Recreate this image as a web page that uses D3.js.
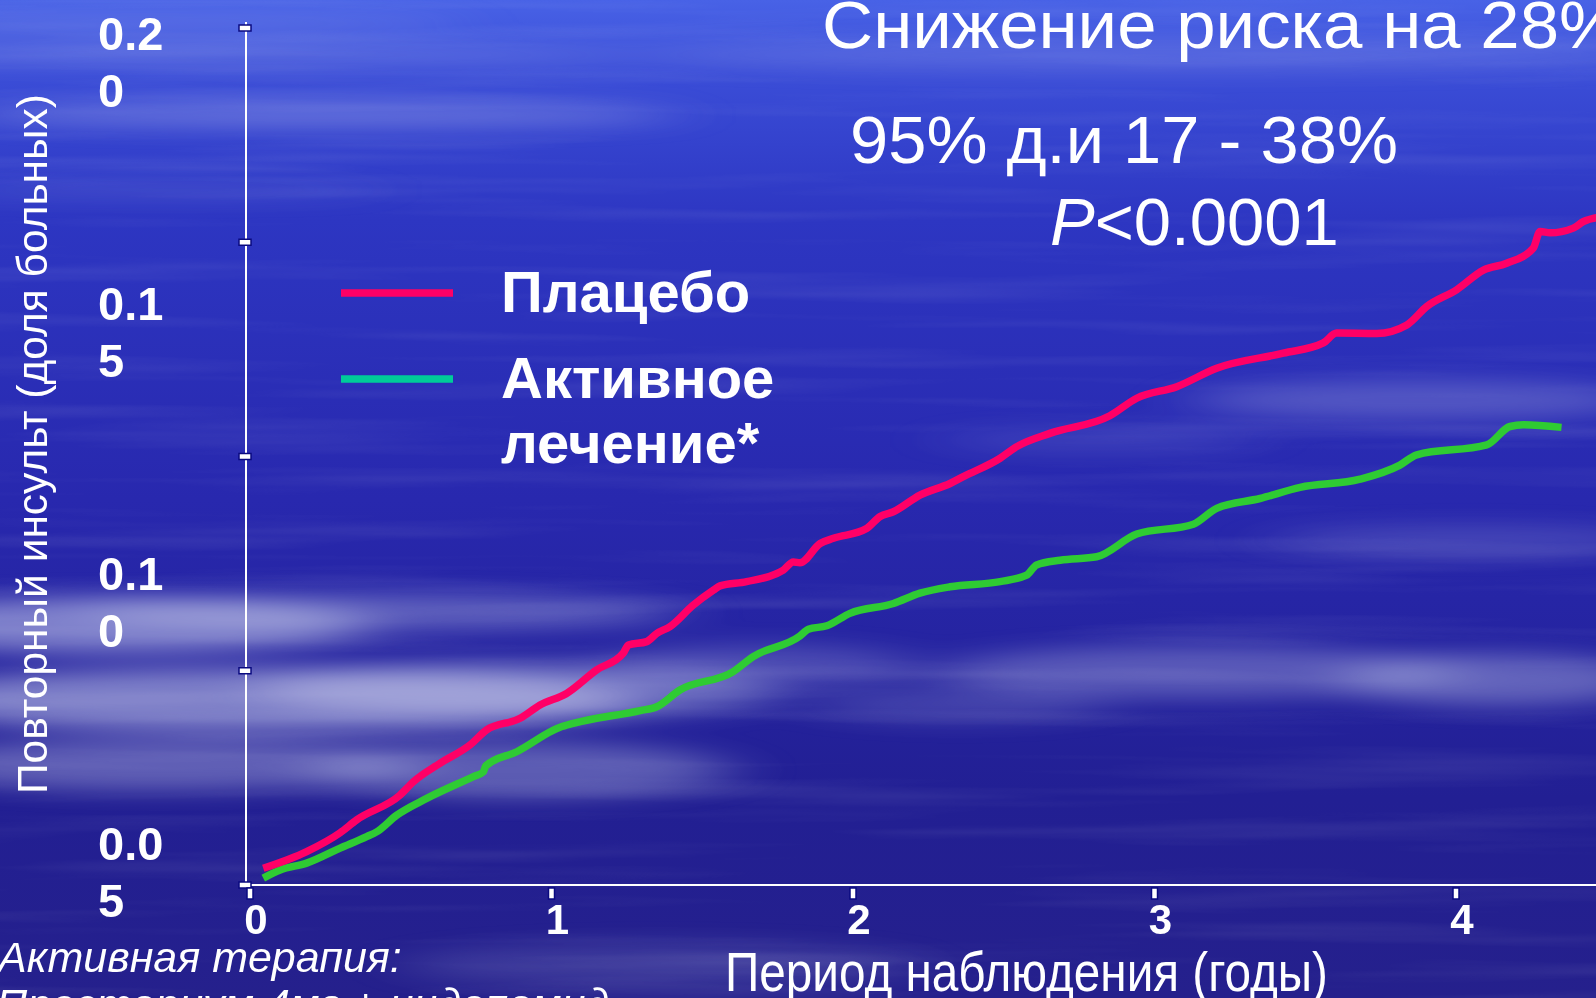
<!DOCTYPE html>
<html>
<head>
<meta charset="utf-8">
<script src="https://cdn.jsdelivr.net/npm/d3@7"></script>
<style>
  html, body { margin: 0; padding: 0; overflow: hidden; background: #2828ae; }
  svg { display: block; font-family: "Liberation Sans", Arial, sans-serif; }
</style>
</head>
<body>
<svg id="chart" width="1596" height="998"></svg>
<script>
// Follow-up time (years) and cumulative proportion of patients with recurrent stroke
const placeboYears = [0.044, 0.188, 0.299, 0.354, 0.498, 0.542, 0.630, 0.730, 0.785, 0.896, 0.962, 1.050, 1.150, 1.238, 1.255, 1.316, 1.349, 1.393, 1.470, 1.537, 1.559, 1.647, 1.769, 1.802, 1.824, 1.891, 1.935, 2.045, 2.090, 2.134, 2.222, 2.322, 2.366, 2.488, 2.543, 2.653, 2.852, 2.941, 3.074, 3.206, 3.427, 3.560, 3.604, 3.737, 3.837, 3.903, 4.002, 4.091, 4.168, 4.256, 4.279, 4.312, 4.389, 4.422, 4.470];
const placeboRisk  = [0.0039, 0.0078, 0.0122, 0.0152, 0.0210, 0.0241, 0.0284, 0.0327, 0.0362, 0.0389, 0.0420, 0.0447, 0.0502, 0.0541, 0.0560, 0.0568, 0.0587, 0.0603, 0.0653, 0.0688, 0.0698, 0.0708, 0.0735, 0.0754, 0.0752, 0.0797, 0.0809, 0.0832, 0.0860, 0.0871, 0.0910, 0.0937, 0.0953, 0.0996, 0.1023, 0.1054, 0.1095, 0.1136, 0.1163, 0.1206, 0.1241, 0.1265, 0.1288, 0.1287, 0.1307, 0.1350, 0.1389, 0.1435, 0.1451, 0.1486, 0.1525, 0.1522, 0.1533, 0.1548, 0.1558];

const activeYears = [0.044, 0.100, 0.188, 0.299, 0.387, 0.420, 0.487, 0.586, 0.741, 0.774, 0.782, 0.885, 1.028, 1.072, 1.294, 1.349, 1.426, 1.603, 1.669, 1.824, 1.852, 1.913, 1.990, 2.134, 2.222, 2.322, 2.488, 2.576, 2.609, 2.687, 2.808, 2.941, 3.129, 3.206, 3.350, 3.483, 3.682, 3.814, 3.870, 4.102, 4.179, 4.223, 4.350];
const activeRisk  = [0.0016, 0.0035, 0.0051, 0.0086, 0.0113, 0.0124, 0.0163, 0.0202, 0.0253, 0.0264, 0.0278, 0.0311, 0.0368, 0.0377, 0.0407, 0.0416, 0.0455, 0.0498, 0.0533, 0.0581, 0.0597, 0.0605, 0.0634, 0.0657, 0.0681, 0.0696, 0.0708, 0.0723, 0.0747, 0.0758, 0.0766, 0.0819, 0.0842, 0.0879, 0.0902, 0.0928, 0.0947, 0.0980, 0.1004, 0.1027, 0.1070, 0.1074, 0.1068];

const xTicks = [0, 1, 2, 3, 4];
const xTickLabels = ["0", "1", "2", "3", "4"];
const yTicks = [0, 0.05, 0.10, 0.15, 0.20];
// value labels on the left, each printed on two lines
const yLabelValues = [0.20, 0.15, 0.10, 0.05];
const yLabelLines = [["0.2", "0"], ["0.1", "5"], ["0.1", "0"], ["0.0", "5"]];

const seriesNames = ["Плацебо", "Активное лечение*"];

const W = 1596, H = 998;
const svg = d3.select("#chart");
const defs = svg.append("defs");

// ---------- backdrop: deep blue sky with soft streaky clouds ----------
const grad = defs.append("linearGradient").attr("id", "sky")
  .attr("x1", 0).attr("y1", 0).attr("x2", 0).attr("y2", 1);
[[0, "#4862e6"], [0.07, "#3b4ed8"], [0.22, "#2d36c2"], [0.5, "#2828ae"], [0.8, "#221f93"], [1, "#25208c"]]
  .forEach(([o, c]) => grad.append("stop").attr("offset", o).attr("stop-color", c));

const cloudBlur = defs.append("filter").attr("id", "cloudBlur")
  .attr("x", "-50%").attr("y", "-100%").attr("width", "200%").attr("height", "300%");
cloudBlur.append("feGaussianBlur").attr("stdDeviation", "34 11");

const streaks = defs.append("filter").attr("id", "streaks")
  .attr("x", 0).attr("y", 0).attr("width", "100%").attr("height", "100%");
streaks.append("feTurbulence").attr("type", "fractalNoise")
  .attr("baseFrequency", "0.0018 0.045").attr("numOctaves", 3).attr("seed", 7).attr("result", "n");
streaks.append("feColorMatrix").attr("type", "matrix")
  .attr("values", "0 0 0 0 1  0 0 0 0 1  0 0 0 0 1  1.7 0 0 0 -0.82");

svg.append("rect").attr("width", W).attr("height", H).attr("fill", "url(#sky)");
svg.append("rect").attr("width", W).attr("height", H)
  .attr("filter", "url(#streaks)").attr("opacity", 0.11);

const clouds = [
  [150, 22, 320, 7, 0.22], [230, 55, 420, 8, 0.25], [320, 115, 360, 12, 0.3],
  [160, 190, 220, 7, 0.14], [1150, 55, 520, 16, 0.16],
  [110, 625, 260, 28, 0.5], [380, 612, 300, 18, 0.32], [260, 700, 380, 32, 0.5],
  [520, 690, 260, 28, 0.38], [160, 765, 260, 26, 0.34], [520, 770, 210, 28, 0.32],
  [760, 665, 160, 20, 0.22], [960, 705, 150, 16, 0.18],
  [1200, 672, 260, 26, 0.3], [1500, 680, 160, 26, 0.35], [1420, 400, 230, 20, 0.24],
  [1470, 540, 200, 14, 0.18], [1100, 440, 160, 12, 0.12], [660, 965, 260, 22, 0.14]
];
svg.append("g").attr("filter", "url(#cloudBlur)")
  .selectAll("ellipse").data(clouds).join("ellipse")
  .attr("cx", d => d[0]).attr("cy", d => d[1]).attr("rx", d => d[2]).attr("ry", d => d[3])
  .attr("fill", "#d8dcf4").attr("opacity", d => d[4]);

// ---------- scales ----------
const x = d3.scaleLinear().domain([0, 4]).range([250, 1456]);
const y = d3.scaleLinear().domain([0, 0.2]).range([885, 28]);
const yLabelPos = d3.scaleLinear().domain([0.05, 0.2]).range([860, 50]);

const axisX0 = x(0) - 4;

// ---------- axes ----------
svg.append("line").attr("x1", axisX0).attr("x2", axisX0)
  .attr("y1", y(0.2) - 6).attr("y2", y(0))
  .attr("stroke", "#fff").attr("stroke-width", 2);
svg.append("line").attr("x1", axisX0).attr("x2", W)
  .attr("y1", y(0)).attr("y2", y(0))
  .attr("stroke", "#fff").attr("stroke-width", 2);

svg.append("g").selectAll("rect").data(yTicks).join("rect")
  .attr("x", axisX0 - 7).attr("y", d => y(d) - 3)
  .attr("width", 12).attr("height", 6)
  .attr("fill", "#fff").attr("stroke", "#0a0a80").attr("stroke-width", 1.5);

svg.append("g").selectAll("rect").data(xTicks).join("rect")
  .attr("x", d => x(d) - 3).attr("y", y(0) + 3)
  .attr("width", 6).attr("height", 11)
  .attr("fill", "#fff").attr("stroke", "#0a0a80").attr("stroke-width", 1.5);

svg.append("g").selectAll("text").data(xTicks).join("text")
  .attr("x", d => x(d) + 6).attr("y", 934)
  .attr("text-anchor", "middle").attr("fill", "#fff")
  .attr("font-weight", "bold").attr("font-size", 42)
  .text((d, i) => xTickLabels[i]);

const yl = svg.append("g").selectAll("text").data(yLabelValues).join("text")
  .attr("fill", "#fff").attr("font-weight", "bold").attr("font-size", 47);
yl.selectAll("tspan").data((d, i) => yLabelLines[i].map(s => ({ s, v: d }))).join("tspan")
  .attr("x", 98).attr("y", (d, j) => yLabelPos(d.v) + j * 57)
  .text(d => d.s);

svg.append("text")
  .attr("transform", "translate(47,444) rotate(-90)")
  .attr("text-anchor", "middle").attr("fill", "#fff").attr("font-size", 42.5)
  .text("Повторный инсульт (доля больных)");

svg.append("text").attr("x", 725).attr("y", 991)
  .attr("fill", "#fff").attr("font-size", 56)
  .attr("textLength", 603).attr("lengthAdjust", "spacingAndGlyphs")
  .text("Период наблюдения (годы)");

// ---------- curves ----------
const line = d3.line().x(d => x(d[0])).y(d => y(d[1])).curve(d3.curveMonotoneX);
const placebo = placeboYears.map((t, i) => [t, placeboRisk[i]]);
const active = activeYears.map((t, i) => [t, activeRisk[i]]);

svg.append("path").datum(active).attr("d", line)
  .attr("fill", "none").attr("stroke", "#2fcb33").attr("stroke-width", 7.5)
  .attr("stroke-linejoin", "round");
svg.append("path").datum(placebo).attr("d", line)
  .attr("fill", "none").attr("stroke", "#ff0066").attr("stroke-width", 7.5)
  .attr("stroke-linejoin", "round");

// ---------- legend ----------
const legend = svg.append("g");
const legendRows = [
  { color: "#ff0066", ly: 293, lines: [seriesNames[0]], ty: 312 },
  { color: "#00cc99", ly: 379, lines: ["Активное", "лечение*"], ty: 398 }
];
legendRows.forEach(r => {
  legend.append("line").attr("x1", 341).attr("x2", 453).attr("y1", r.ly).attr("y2", r.ly)
    .attr("stroke", r.color).attr("stroke-width", 7.5);
  const t = legend.append("text").attr("fill", "#fff").attr("font-weight", "bold").attr("font-size", 58);
  r.lines.forEach((s, j) => t.append("tspan").attr("x", 501).attr("y", r.ty + j * 65).text(s));
});

// ---------- annotations ----------
svg.append("text").attr("x", 822).attr("y", 48)
  .attr("fill", "#fff").attr("font-size", 67)
  .attr("textLength", 800).attr("lengthAdjust", "spacingAndGlyphs")
  .text("Снижение риска на 28%");
svg.append("text").attr("x", 850).attr("y", 163)
  .attr("fill", "#fff").attr("font-size", 66)
  .attr("textLength", 548).attr("lengthAdjust", "spacingAndGlyphs")
  .text("95% д.и 17 - 38%");
const pt = svg.append("text").attr("x", 1050).attr("y", 245)
  .attr("fill", "#fff").attr("font-size", 67);
pt.append("tspan").attr("font-style", "italic").text("P");
pt.append("tspan").text("<0.0001");

const note = svg.append("text").attr("fill", "#fff").attr("font-style", "italic").attr("font-size", 43);
note.append("tspan").attr("x", -2).attr("y", 972).text("Активная терапия:");
note.append("tspan").attr("x", -4).attr("y", 1019).text("Престариум 4мг + индапамид");
</script>
</body>
</html>
